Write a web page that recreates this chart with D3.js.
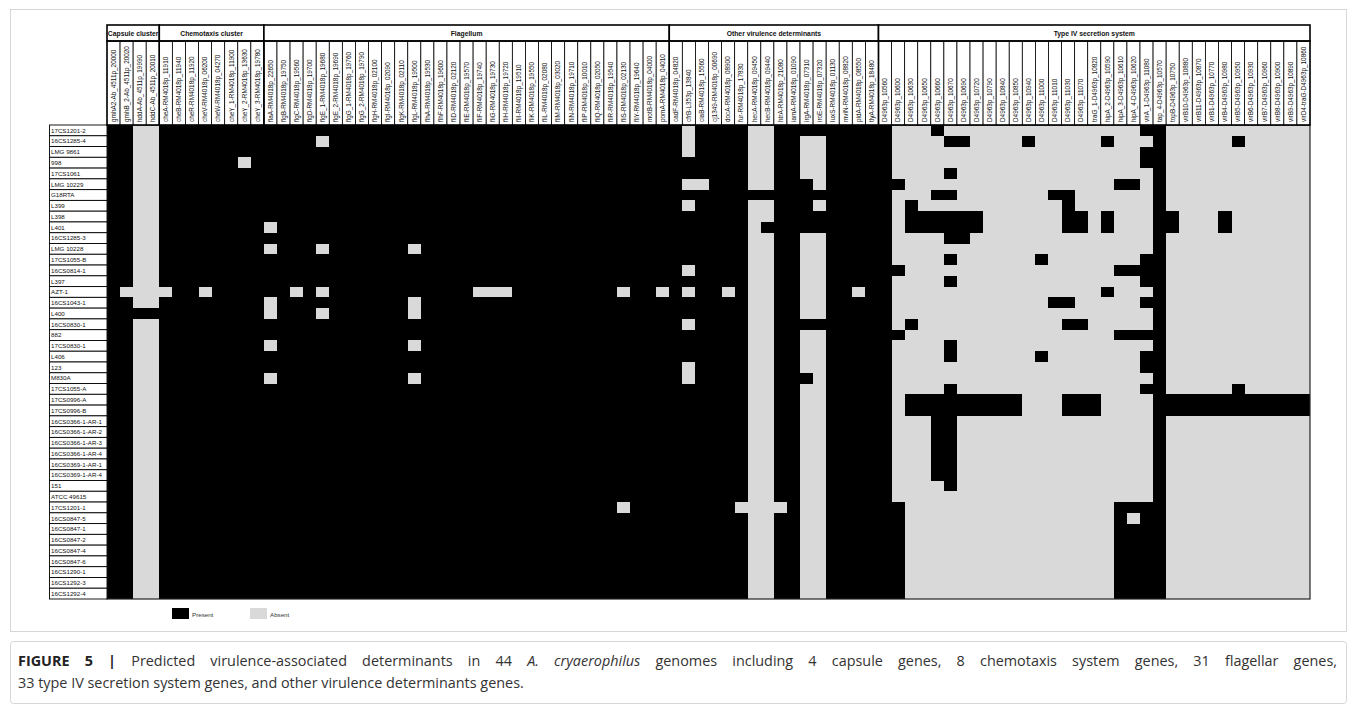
<!DOCTYPE html>
<html>
<head>
<meta charset="utf-8">
<script src="https://cdn.jsdelivr.net/npm/d3@7"></script>
<style>
  body { margin: 0; background: #fff; }
  svg { display: block; }
</style>
</head>
<body>
<svg id="chart" width="1357" height="712"></svg>
<script>
// strains, top to bottom
const strains = ["17CS1201-2", "16CS1285-4", "LMG 9861", "998", "17CS1061", "LMG 10229", "G18RTA",
  "L399", "L398", "L401", "16CS1285-3", "LMG 10228", "17CS1055-B", "16CS0814-1", "L397", "AZT-1",
  "16CS1043-1", "L400", "16CS0830-1", "882", "17CS0830-1", "L406", "123", "M830A", "17CS1055-A",
  "17CS0996-A", "17CS0996-B", "16CS0366-1-AR-1", "16CS0366-1-AR-2", "16CS0366-1-AR-3",
  "16CS0366-1-AR-4", "16CS0369-1-AR-1", "16CS0369-1-AR-4", "151", "ATCC 49615", "17CS1201-1",
  "16CS0847-5", "16CS0847-1", "16CS0847-2", "16CS0847-4", "16CS0847-6", "16CS1290-1",
  "16CS1292-3", "16CS1292-4"];

const capsuleGenes = ["gmhA2-Ab_4511p_20000", "gmhB_2-Ab_4511p_20020", "hddA-Ab_4511p_19990", "hddC-Ab_4511p_20010"];
const chemotaxisGenes = ["cheA-RM4018p_11910", "cheB-RM4018p_11940", "cheR-RM4018p_11920", "cheV-RM4018p_06200",
  "cheW-RM4018p_04270", "cheY_1-RM4018p_11900", "cheY_2-RM4018p_13630", "cheY_3-RM4018p_19780"];
const flagellumGenes = ["flaA-RM4018p_22650", "flgB-RM4018p_19750", "flgC-RM4018p_19560", "flgD-RM4018p_19700",
  "flgE_1-RM4018p_19680", "flgE_2-RM4018p_19690", "flgG_1-RM4018p_19760", "flgG_2-RM4018p_19790",
  "flgH-RM4018p_02100", "flgI-RM4018p_02090", "flgK-RM4018p_02110", "flgL-RM4018p_19500",
  "flhA-RM4018p_19530", "flhF-RM4018p_19600", "fliD-RM4018p_02120", "fliE-RM4018p_19570",
  "fliF-RM4018p_19740", "fliG-RM4018p_19730", "fliH-RM4018p_19720", "fliI-RM4018p_19510",
  "fliK-RM4018p_19550", "fliL-RM4018p_02080", "fliM-RM4018p_03020", "fliN-RM4018p_19710",
  "fliP-RM4018p_10010", "fliQ-RM4018p_02050", "fliR-RM4018p_19540", "fliS-RM4018p_02130",
  "fliY-RM4018p_19640", "motB-RM4018p_04000", "pomA-RM4018p_04010"];
const otherGenes = ["cadF-RM4018p_04820", "cfrB-L353p_13840", "ciaB-RM4018p_15560", "cj1349-RM4018p_00690",
  "docA-RM4018p_08900", "fur-RM4018p_17830", "hecA-RM4018p_09450", "hecB-RM4018p_09440",
  "htrA-RM4018p_21080", "iamA-RM4018p_01090", "irgA-RM4018p_07310", "iroE-RM4018p_07320",
  "luxS-RM4018p_01130", "mviN-RM4018p_08820", "pldA-RM4018p_08550", "tlyA-RM4018p_18480"];
const t4ssGenes = ["D4963p_10560", "D4963p_10600", "D4963p_10630", "D4963p_10650", "D4963p_10660",
  "D4963p_10670", "D4963p_10690", "D4963p_10720", "D4963p_10790", "D4963p_10840", "D4963p_10850",
  "D4963p_10940", "D4963p_11000", "D4963p_11010", "D4963p_11030", "D4963p_11070",
  "traG_1-D4963p_10820", "hipA_2-D4963p_10590", "hipA_3-D4963p_10610", "hipA_4-D4963p_10620",
  "virA_1-D4963p_11080", "tap_4-D4963p_10570", "topB-D4963p_10750", "virB10-D4963p_10880",
  "virB11-D4963p_10870", "virB1-D4963p_10770", "virB4-D4963p_10980", "virB5-D4963p_10950",
  "virB6-D4963p_10930", "virB7-D4963p_10960", "virB8-D4963p_10900", "virB9-D4963p_10890",
  "virD4-traG-D4963p_10860"];

const groupNames = ["Capsule cluster", "Chemotaxis cluster", "Flagellum", "Other virulence determinants", "Type IV secretion system"];
const groupGenes = [capsuleGenes, chemotaxisGenes, flagellumGenes, otherGenes, t4ssGenes];

// capsule..other virulence columns (0-58): genes ABSENT in each strain
const coreAbsent = [
  [2, 3, 44, 49, 50],
  [2, 3, 16, 44, 49, 50, 53, 54],
  [2, 3, 44, 49, 50, 53, 54],
  [2, 3, 10, 49, 50, 53, 54],
  [2, 3, 49, 50, 53, 54],
  [2, 3, 44, 45, 49, 50, 54],
  [2, 3],
  [2, 3, 44, 49, 50, 54],
  [2, 3, 49, 50],
  [2, 3, 12, 49],
  [2, 3, 49, 50, 53, 54],
  [2, 3, 12, 16, 23, 49, 50, 53, 54],
  [2, 3, 49, 50, 53, 54],
  [2, 3, 44, 49, 50, 53, 54],
  [2, 3, 49, 50, 53, 54],
  [1, 2, 3, 4, 7, 14, 16, 28, 29, 30, 39, 42, 44, 47, 49, 50, 53, 54, 57],
  [2, 3, 12, 23, 49, 50, 53, 54],
  [12, 16, 23, 49, 50, 53, 54],
  [2, 3, 44, 49, 50],
  [2, 3, 49, 50, 53, 54],
  [2, 3, 12, 23, 49, 50, 53, 54],
  [2, 3, 49, 50, 53, 54],
  [2, 3, 44, 49, 50, 53, 54],
  [2, 3, 12, 23, 44, 49, 50, 54],
  [2, 3, 49, 50, 53, 54],
  [2, 3, 49, 50, 53, 54],
  [2, 3, 49, 50, 53, 54],
  [2, 3, 49, 50, 53, 54],
  [2, 3, 49, 50, 53, 54],
  [2, 3, 49, 50, 53, 54],
  [2, 3, 49, 50, 53, 54],
  [2, 3, 49, 50, 53, 54],
  [2, 3, 49, 50, 53, 54],
  [2, 3, 49, 50, 53, 54],
  [2, 3, 49, 50, 53, 54],
  [2, 3, 39, 48, 49, 50, 51, 53, 54],
  [2, 3, 49, 50, 53, 54],
  [2, 3, 49, 50, 53, 54],
  [2, 3, 49, 50, 53, 54],
  [2, 3, 49, 50, 53, 54],
  [2, 3, 49, 50, 53, 54],
  [2, 3, 49, 50, 53, 54],
  [2, 3, 49, 50, 53, 54],
  [2, 3, 49, 50, 53, 54]
];

// type IV secretion system genes (index in t4ssGenes): genes PRESENT in each strain
const t4Present = [
  [0, 4, 20, 21],
  [0, 5, 6, 11, 17, 21, 27],
  [0, 20, 21],
  [0, 20, 21],
  [0, 5, 21],
  [0, 1, 18, 19, 21],
  [0, 4, 5, 13, 14, 21],
  [0, 2, 14, 21],
  [0, 2, 3, 4, 5, 6, 7, 14, 15, 17, 21, 22, 26],
  [0, 2, 3, 4, 5, 6, 7, 14, 15, 17, 21, 22, 26],
  [0, 5, 6, 21],
  [0, 21],
  [0, 5, 12, 20, 21],
  [0, 1, 18, 19, 20, 21],
  [0, 5, 20, 21],
  [0, 17, 21],
  [0, 13, 14, 20, 21],
  [0, 21],
  [0, 2, 14, 15, 21],
  [0, 1, 18, 19, 20, 21],
  [0, 5, 21],
  [0, 5, 12, 20, 21],
  [0, 20, 21],
  [0, 21],
  [0, 5, 20, 21, 27],
  [0, 2, 3, 4, 5, 6, 7, 8, 9, 10, 14, 15, 16, 21, 22, 23, 24, 25, 26, 27, 28, 29, 30, 31, 32],
  [0, 2, 3, 4, 5, 6, 7, 8, 9, 10, 14, 15, 16, 21, 22, 23, 24, 25, 26, 27, 28, 29, 30, 31, 32],
  [0, 4, 5, 21],
  [0, 4, 5, 21],
  [0, 4, 5, 21],
  [0, 4, 5, 21],
  [0, 4, 5, 21],
  [0, 4, 5, 21],
  [0, 5, 21],
  [0, 21],
  [0, 1, 18, 19, 20, 21],
  [0, 1, 18, 20, 21],
  [0, 1, 18, 19, 20, 21],
  [0, 1, 18, 19, 20, 21],
  [0, 1, 18, 19, 20, 21],
  [0, 1, 18, 19, 20, 21],
  [0, 1, 18, 19, 20, 21],
  [0, 1, 18, 19, 20, 21],
  [0, 1, 18, 19, 20, 21]
];

const legendItems = ["Present", "Absent"];
const presentColor = "#000000";
const absentColor = "#d9d9d9";
const font = "'Liberation Sans', Arial, sans-serif";
const capFont = "'Open Sans', 'Noto Sans', sans-serif";

const allGenes = groupGenes.flat();
const nCore = allGenes.length - t4ssGenes.length;

var svg = d3.select("#chart");
svg.append("rect").attr("width", 1357).attr("height", 712).attr("fill", "#fff");

// faint frame round the figure
svg.append("rect")
  .attr("x", 10.5).attr("y", 9.5).attr("width", 1336).attr("height", 622)
  .attr("fill", "none").attr("stroke", "#d6d6d6");

var x = d3.scaleBand().domain(d3.range(allGenes.length)).range([107, 1310]);
var y = d3.scaleBand().domain(d3.range(strains.length)).range([125, 599]);
var headTop = 25, headMid = 41;

var cells = [];
strains.forEach(function(s, r) {
  allGenes.forEach(function(g, c) {
    var present = c < nCore ? !coreAbsent[r].includes(c) : t4Present[r].includes(c - nCore);
    cells.push({ r: r, c: c, present: present });
  });
});

svg.append("g")
  .attr("shape-rendering", "crispEdges")
  .selectAll("rect")
  .data(cells)
  .enter()
  .append("rect")
  .attr("x", d => x(d.c))
  .attr("y", d => y(d.r))
  .attr("width", x.bandwidth() + 0.4)
  .attr("height", y.bandwidth() + 0.4)
  .attr("fill", d => d.present ? presentColor : absentColor);

// body outline
svg.append("rect")
  .attr("x", 107).attr("y", 125).attr("width", 1310 - 107).attr("height", 599 - 125)
  .attr("fill", "none").attr("stroke", "#222").attr("stroke-width", 1.2);

// row labels
var rowG = svg.append("g");
rowG.selectAll("rect")
  .data(strains)
  .enter()
  .append("rect")
  .attr("x", 49.5)
  .attr("y", (d, i) => y(i))
  .attr("width", 107 - 49.5)
  .attr("height", y.bandwidth())
  .attr("fill", "#fff")
  .attr("stroke", "#000")
  .attr("stroke-width", 0.9);
rowG.selectAll("text")
  .data(strains)
  .enter()
  .append("text")
  .attr("x", 51)
  .attr("y", (d, i) => y(i) + y.bandwidth() / 2 + 2.3)
  .attr("font-family", font)
  .attr("font-size", "6.2px")
  .attr("fill", "#111")
  .text(d => d);

// gene header
var geneG = svg.append("g");
geneG.selectAll("rect")
  .data(allGenes)
  .enter()
  .append("rect")
  .attr("x", (d, i) => x(i))
  .attr("y", headMid)
  .attr("width", x.bandwidth())
  .attr("height", 125 - headMid)
  .attr("fill", "#fff")
  .attr("stroke", "#000")
  .attr("stroke-width", 0.8);
geneG.selectAll("text")
  .data(allGenes)
  .enter()
  .append("text")
  .attr("transform", (d, i) => "translate(" + (x(i) + x.bandwidth() / 2 + 2.3) + ",122) rotate(-90)")
  .attr("font-family", font)
  .attr("font-size", "6.4px")
  .attr("fill", "#111")
  .text(d => d);

// group header boxes
var start = 0;
var groups = groupNames.map(function(name, i) {
  var g = { name: name, start: start, end: start + groupGenes[i].length - 1 };
  start += groupGenes[i].length;
  return g;
});
var grpG = svg.append("g");
grpG.selectAll("rect.top")
  .data(groups)
  .enter()
  .append("rect")
  .attr("class", "top")
  .attr("x", d => x(d.start))
  .attr("y", headTop)
  .attr("width", d => x(d.end) + x.bandwidth() - x(d.start))
  .attr("height", headMid - headTop)
  .attr("fill", "#fff")
  .attr("stroke", "#000")
  .attr("stroke-width", 1.6);
grpG.selectAll("rect.side")
  .data(groups)
  .enter()
  .append("rect")
  .attr("class", "side")
  .attr("x", d => x(d.start))
  .attr("y", headMid)
  .attr("width", d => x(d.end) + x.bandwidth() - x(d.start))
  .attr("height", 125 - headMid)
  .attr("fill", "none")
  .attr("stroke", "#000")
  .attr("stroke-width", 1.4);
grpG.selectAll("text")
  .data(groups)
  .enter()
  .append("text")
  .attr("x", d => (x(d.start) + x(d.end) + x.bandwidth()) / 2)
  .attr("y", 36)
  .attr("text-anchor", "middle")
  .attr("font-family", font)
  .attr("font-size", "6.8px")
  .attr("font-weight", "bold")
  .attr("fill", "#111")
  .text(d => d.name);

// legend
var leg = svg.append("g");
leg.selectAll("rect")
  .data(legendItems)
  .enter()
  .append("rect")
  .attr("x", (d, i) => 172 + i * 78)
  .attr("y", 608)
  .attr("width", 17)
  .attr("height", 11)
  .attr("fill", (d, i) => i === 0 ? presentColor : absentColor);
leg.selectAll("text")
  .data(legendItems)
  .enter()
  .append("text")
  .attr("x", (d, i) => 192 + i * 78)
  .attr("y", 617)
  .attr("font-family", font)
  .attr("font-size", "6.2px")
  .attr("fill", "#333")
  .text(d => d);

// caption
svg.append("rect")
  .attr("x", 10.5).attr("y", 641.5).attr("width", 1336).attr("height", 62)
  .attr("rx", 3)
  .attr("fill", "#fff").attr("stroke", "#d6d6d6");

var cap1 = svg.append("text")
  .attr("x", 18).attr("y", 666)
  .attr("font-family", capFont)
  .attr("font-size", "14.4px")
  .attr("fill", "#333");
cap1.append("tspan").attr("font-weight", "bold").attr("fill", "#222").text("FIGURE 5 | ");
cap1.append("tspan").text("Predicted virulence-associated determinants in 44 ");
cap1.append("tspan").attr("font-style", "italic").text("A. cryaerophilus");
cap1.append("tspan").text(" genomes including 4 capsule genes, 8 chemotaxis system genes, 31 flagellar genes,");

// first caption line is justified to the box width
var natural = cap1.node().getComputedTextLength();
var spaces = cap1.text().split(" ").length - 1;
cap1.attr("word-spacing", Math.max(0, (1337 - 18 - natural) / spaces));

svg.append("text")
  .attr("x", 18).attr("y", 688)
  .attr("font-family", capFont)
  .attr("font-size", "14.4px")
  .attr("fill", "#333")
  .text("33 type IV secretion system genes, and other virulence determinants genes.");
</script>
</body>
</html>
